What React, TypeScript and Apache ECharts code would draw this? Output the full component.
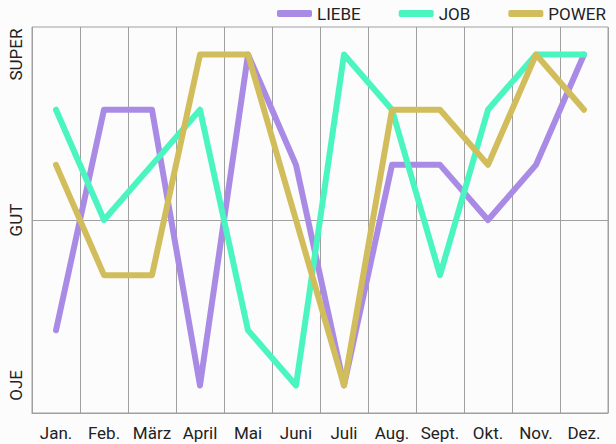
import React, { useEffect, useRef } from "react";
import * as echarts from "echarts";

const months = ["Jan.", "Feb.", "März", "April", "Mai", "Juni", "Juli", "Aug.", "Sept.", "Okt.", "Nov.", "Dez."];
const liebe = [2, 6, 6, 1, 7, 5, 1, 5, 5, 4, 5, 7];
const job = [6, 4, 5, 6, 2, 1, 7, 6, 3, 6, 7, 7];
const power = [5, 3, 3, 7, 7, 4, 1, 6, 6, 5, 7, 6];
const levelLabels: Record<number, string> = { 1: "OJE", 4: "GUT", 7: "SUPER" };

const FONT = "Roboto";

export default function App() {
  const ref = useRef<HTMLDivElement>(null);
  useEffect(() => {
    if (!ref.current) return;
    const chart = echarts.init(ref.current, undefined, { renderer: "svg" });
    const mk = (name: string, data: number[], color: string, withMark = false) => ({
      name,
      type: "line",
      data,
      showSymbol: false,
      symbol: "none",
      lineStyle: { width: 6, color, cap: "round", join: "round" },
      itemStyle: { color },
      z: 3,
      ...(withMark
        ? {
            markLine: {
              silent: true,
              symbol: "none",
              label: { show: false },
              lineStyle: { color: "#a0a0a0", width: 1, type: "solid" },
              data: [{ yAxis: 4 }],
              z: 1,
            },
          }
        : {}),
    });
    chart.setOption({
      animation: false,
      backgroundColor: "#fcfcfd",
      textStyle: { fontFamily: FONT },
      legend: {
        top: 0,
        right: 5,
        itemWidth: 35,
        itemHeight: 7,
        itemGap: 38,
        icon: "roundRect",
        textStyle: { fontSize: 17, color: "#222", fontFamily: FONT },
        data: ["LIEBE", "JOB", "POWER"],
      },
      grid: {
        left: 32,
        right: 8,
        top: 27,
        bottom: 31,
        show: true,
        borderColor: "#a0a0a0",
        borderWidth: 1,
      },
      xAxis: {
        type: "category",
        data: months,
        boundaryGap: true,
        axisLine: { show: true, lineStyle: { color: "#a0a0a0" } },
        axisTick: { show: false },
        splitLine: { show: true, lineStyle: { color: "#a0a0a0", width: 1 } },
        axisLabel: { color: "#222", fontSize: 17, margin: 11, fontFamily: FONT, interval: 0 },
      },
      yAxis: {
        type: "value",
        min: 0.5,
        max: 7.5,
        interval: 0.5,
        axisLine: { show: false },
        axisTick: { show: false },
        splitLine: { show: false },
        axisLabel: {
          rotate: 90,
          color: "#222",
          fontSize: 17,
          margin: 8,
          fontFamily: FONT,
          formatter: (v: number) => levelLabels[v] || "",
        },
      },
      series: [mk("LIEBE", liebe, "#a98be6", true), mk("JOB", job, "#4bf5bf"), mk("POWER", power, "#d2bd5c")],
    });
    return () => chart.dispose();
  }, []);
  return <div ref={ref} style={{ position: "fixed", left: 0, top: 0, width: 616, height: 444 }} />;
}
